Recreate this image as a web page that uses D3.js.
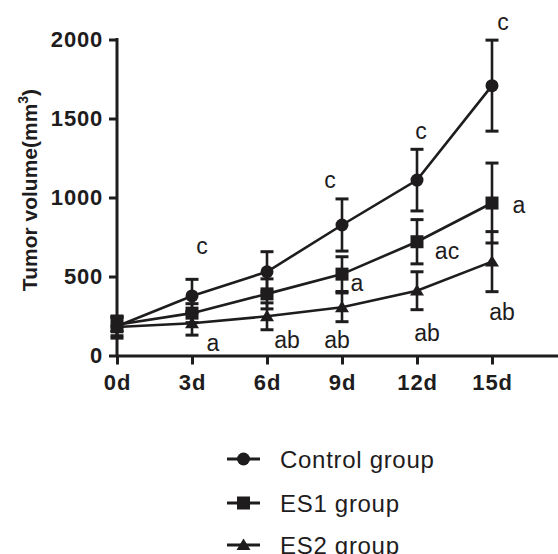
<!DOCTYPE html>
<html>
<head>
<meta charset="utf-8">
<script src="https://cdn.jsdelivr.net/npm/d3@7"></script>
<style>
  html, body { margin: 0; padding: 0; background: #fff; }
  svg { display: block; }
  text { font-family: "Liberation Sans", Arial, Helvetica, sans-serif; fill: #1e1c1d; }
</style>
</head>
<body>
<svg id="chart" width="558" height="554"></svg>
<script>
// ---- data ----
const days = [0, 3, 6, 9, 12, 15];
const dayLabels = ["0d", "3d", "6d", "9d", "12d", "15d"];
const yTicks = [0, 500, 1000, 1500, 2000];
const seriesNames = ["Control group", "ES1 group", "ES2 group"];
const controlMean = [185, 377, 530, 826, 1110, 1708];
const controlErr  = [60, 105, 127, 165, 195, 288];
const es1Mean     = [195, 268, 390, 515, 720, 965];
const es1Err      = [45, 60, 95, 110, 140, 253];
const es2Mean     = [180, 204, 248, 305, 410, 594];
const es2Err      = [70, 75, 85, 91, 120, 190];

// significance annotations
const annoDay   = [3, 3, 6, 9, 9, 9, 12, 12, 12, 15, 15, 15];
const annoText  = ["c", "a", "ab", "c", "a", "ab", "c", "ac", "ab", "c", "a", "ab"];
const annoValue = [642, 28, 47, 1060, 408, 47, 1370, 611, 92, 2060, 902, 225];
const annoDx    = [10, 21, 20, -12, 15, -5, 4, 30, 10, 11, 27, 10];

// ---- layout ----
const ink = "#1e1c1d";
const svg = d3.select("#chart");
const x = d3.scaleLinear().domain([0, 17.64]).range([117, 558]);
const y = d3.scaleLinear().domain([0, 2000]).range([355.5, 39.5]);

const series = [
  { name: seriesNames[0], mean: controlMean, err: controlErr, shape: "circle" },
  { name: seriesNames[1], mean: es1Mean, err: es1Err, shape: "square" },
  { name: seriesNames[2], mean: es2Mean, err: es2Err, shape: "triangle" }
];

function drawMarker(g, shape, cx, cy) {
  if (shape === "circle") {
    g.append("circle").attr("cx", cx).attr("cy", cy).attr("r", 6.5).attr("fill", ink);
  } else if (shape === "square") {
    g.append("rect").attr("x", cx - 6.5).attr("y", cy - 6.5).attr("width", 13).attr("height", 13).attr("fill", ink);
  } else {
    const s = 6.5;
    g.append("path").attr("d", `M${cx},${cy - s} L${cx + s + 0.5},${cy + s * 0.75} L${cx - s - 0.5},${cy + s * 0.75} Z`).attr("fill", ink);
  }
}

// axes
const xAxis = d3.axisBottom(x).tickValues(days).tickFormat((d, i) => dayLabels[i])
  .tickSizeInner(9).tickSizeOuter(0).tickPadding(10);
const gx = svg.append("g").attr("transform", `translate(0,${y(0)})`).call(xAxis);
const yAxis = d3.axisLeft(y).tickValues(yTicks).tickFormat(d3.format("d"))
  .tickSizeInner(8).tickSizeOuter(0).tickPadding(6);
const gy = svg.append("g").attr("transform", `translate(${x(0)},0)`).call(yAxis);
[gx, gy].forEach(g => {
  g.select(".domain").attr("stroke", ink).attr("stroke-width", 3);
  g.selectAll(".tick line").attr("stroke", ink).attr("stroke-width", 3);
  g.selectAll(".tick text").attr("fill", ink).style("font-size", "22px").style("font-weight", "bold")
    .style("letter-spacing", "0.8px")
    .style("font-family", "'Liberation Sans', Arial, sans-serif");
});
gy.select(".domain").attr("d", `M0,${y(0) + 1.5}V${y(2000) - 1.5}`);

// y-axis title
const yt = svg.append("text")
  .attr("transform", `translate(37,190) rotate(-90)`)
  .attr("text-anchor", "middle")
  .style("font-size", "21px").style("font-weight", "bold");
yt.append("tspan").text("Tumor volume(mm");
yt.append("tspan").attr("dy", -9).style("font-size", "14px").text("3");
yt.append("tspan").attr("dy", 9).text(")");

// lines
const line = d3.line().x((d, i) => x(days[i])).y(d => y(d));
const plot = svg.append("g");
series.forEach(s => {
  plot.append("path").datum(s.mean).attr("d", line)
    .attr("fill", "none").attr("stroke", ink).attr("stroke-width", 2.6);
});

// error bars
series.forEach(s => {
  s.mean.forEach((m, i) => {
    const cx = x(days[i]);
    const g = plot.append("g").attr("stroke", ink);
    g.append("line").attr("x1", cx).attr("x2", cx).attr("y1", y(m + s.err[i])).attr("y2", y(m - s.err[i])).attr("stroke-width", 2.6);
    [m + s.err[i], m - s.err[i]].forEach(v => {
      g.append("line").attr("x1", cx - 6.5).attr("x2", cx + 6.5).attr("y1", y(v)).attr("y2", y(v)).attr("stroke-width", 3);
    });
  });
});

// markers
series.forEach(s => {
  s.mean.forEach((m, i) => drawMarker(plot, s.shape, x(days[i]), y(m)));
});

// annotations
annoText.forEach((t, i) => {
  svg.append("text")
    .attr("x", x(annoDay[i]) + annoDx[i])
    .attr("y", y(annoValue[i]))
    .attr("text-anchor", "middle")
    .style("font-size", "23px")
    .text(t);
});

// legend
const legY = [459, 503, 545];
series.forEach((s, i) => {
  const g = svg.append("g");
  g.append("line").attr("x1", 227).attr("x2", 260).attr("y1", legY[i]).attr("y2", legY[i])
    .attr("stroke", ink).attr("stroke-width", 3);
  drawMarker(g, s.shape, 243.5, legY[i]);
  g.append("text").attr("x", 280).attr("y", legY[i] + 8.5)
    .style("font-size", "24px").style("letter-spacing", "0.7px").text(s.name);
});
</script>
</body>
</html>
